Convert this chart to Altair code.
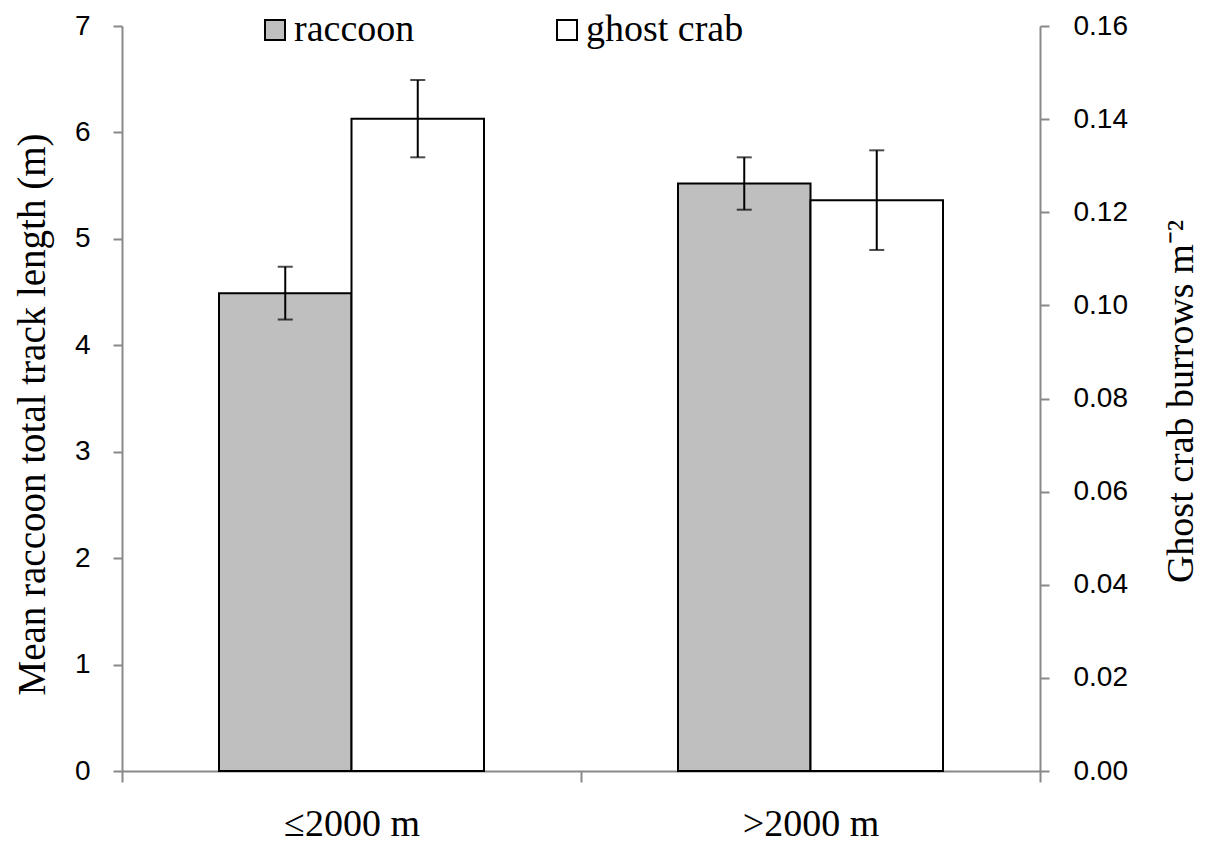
import altair as alt
import pandas as pd

categories = ["≤2000 m", ">2000 m"]
series = ["raccoon", "ghost crab"]
raccoon_mean = [4.49, 5.52]
raccoon_se = [0.248, 0.246]
crab_mean = [0.1401, 0.1226]
crab_se = [0.0083, 0.0107]

left_ticks = [0, 1, 2, 3, 4, 5, 6, 7]
right_ticks = [0.0, 0.02, 0.04, 0.06, 0.08, 0.10, 0.12, 0.14, 0.16]

rac = pd.DataFrame({
    "cat": categories,
    "series": series[0],
    "value": raccoon_mean,
    "lo": [m - s for m, s in zip(raccoon_mean, raccoon_se)],
    "hi": [m + s for m, s in zip(raccoon_mean, raccoon_se)],
})
crab = pd.DataFrame({
    "cat": categories,
    "series": series[1],
    "value": crab_mean,
    "lo": [m - s for m, s in zip(crab_mean, crab_se)],
    "hi": [m + s for m, s in zip(crab_mean, crab_se)],
})

GRAY = "#898989"
SERIF = "Liberation Serif"
SANS = "Liberation Sans"

x_enc = alt.X("cat:N", sort=categories, title=None,
              scale=alt.Scale(paddingInner=0, paddingOuter=0),
              axis=alt.Axis(labelAngle=0, labelFont=SERIF, labelFontSize=38,
                            labelColor="black", labelBaseline="bottom",
                            labelPadding=61, tickSize=11, tickBand="extent",
                            tickColor=GRAY, tickWidth=2, domainColor=GRAY,
                            domainWidth=2, grid=False))
xo_enc = alt.XOffset("series:N", sort=series,
                     scale=alt.Scale(domain=series, paddingInner=0, paddingOuter=0.732))

left_axis = alt.Axis(values=left_ticks, format="d",
                     title="Mean raccoon total track length (m)",
                     titleFont=SERIF, titleFontSize=39, titleFontWeight="normal",
                     titleColor="black", titleAngle=270, titleX=-78, titleY=388,
                     titleBaseline="alphabetic", titleAlign="center",
                     labelFont=SANS, labelFontSize=28, labelColor="black",
                     labelPadding=23, tickSize=9, tickColor=GRAY, tickWidth=2,
                     domainColor=GRAY, domainWidth=2, grid=False)
right_axis = alt.Axis(values=right_ticks, format=".2f", orient="right",
                      title="Ghost crab burrows m⁻²",
                      titleFont=SERIF, titleFontSize=38, titleFontWeight="normal",
                      titleColor="black", titleAngle=270, titleX=152, titleY=375,
                      titleBaseline="alphabetic", titleAlign="center",
                      labelFont=SANS, labelFontSize=28, labelColor="black",
                      labelPadding=24, tickSize=9, tickColor=GRAY, tickWidth=2,
                      domainColor=GRAY, domainWidth=2, grid=False)

left_scale = alt.Scale(domain=[0, 7], nice=False, zero=True)
right_scale = alt.Scale(domain=[0, 0.16], nice=False, zero=True)

fill_enc = alt.Fill("series:N", sort=series,
                    scale=alt.Scale(domain=series, range=["#bfbfbf", "#ffffff"]),
                    legend=alt.Legend(title=None, orient="none", direction="horizontal",
                                      legendX=134, legendY=-15, padding=0,
                                      symbolType="square", symbolSize=400,
                                      symbolStrokeColor="black", symbolStrokeWidth=2,
                                      labelFont=SERIF, labelFontSize=38,
                                      labelColor="black", labelOffset=0,
                                      columnPadding=133, labelLimit=400))


def build(df, scale, axis):
    bars = alt.Chart(df).mark_bar(stroke="black", strokeWidth=2).encode(
        x=x_enc, xOffset=xo_enc,
        y=alt.Y("value:Q", scale=scale, axis=axis),
        fill=fill_enc,
    )
    rule = alt.Chart(df).mark_rule(color="black", strokeWidth=2).encode(
        x=x_enc, xOffset=xo_enc,
        y=alt.Y("lo:Q", scale=scale, axis=axis), y2="hi:Q",
    )
    cap_lo = alt.Chart(df).mark_tick(color="black", thickness=2, size=15,
                                     orient="horizontal").encode(
        x=x_enc, xOffset=xo_enc,
        y=alt.Y("lo:Q", scale=scale, axis=axis),
    )
    cap_hi = alt.Chart(df).mark_tick(color="black", thickness=2, size=15,
                                     orient="horizontal").encode(
        x=x_enc, xOffset=xo_enc,
        y=alt.Y("hi:Q", scale=scale, axis=axis),
    )
    return alt.layer(bars, rule, cap_lo, cap_hi)


chart = alt.layer(
    build(rac, left_scale, left_axis),
    build(crab, right_scale, right_axis),
).resolve_scale(y="independent").properties(
    width=918, height=745,
    autosize=alt.AutoSizeParams(type="none"),
    padding={"left": 114, "top": 18, "right": 161, "bottom": 74},
    background="white",
).configure_view(stroke=None)

chart.save("out.html", embed_options={"renderer": "svg", "actions": False})
